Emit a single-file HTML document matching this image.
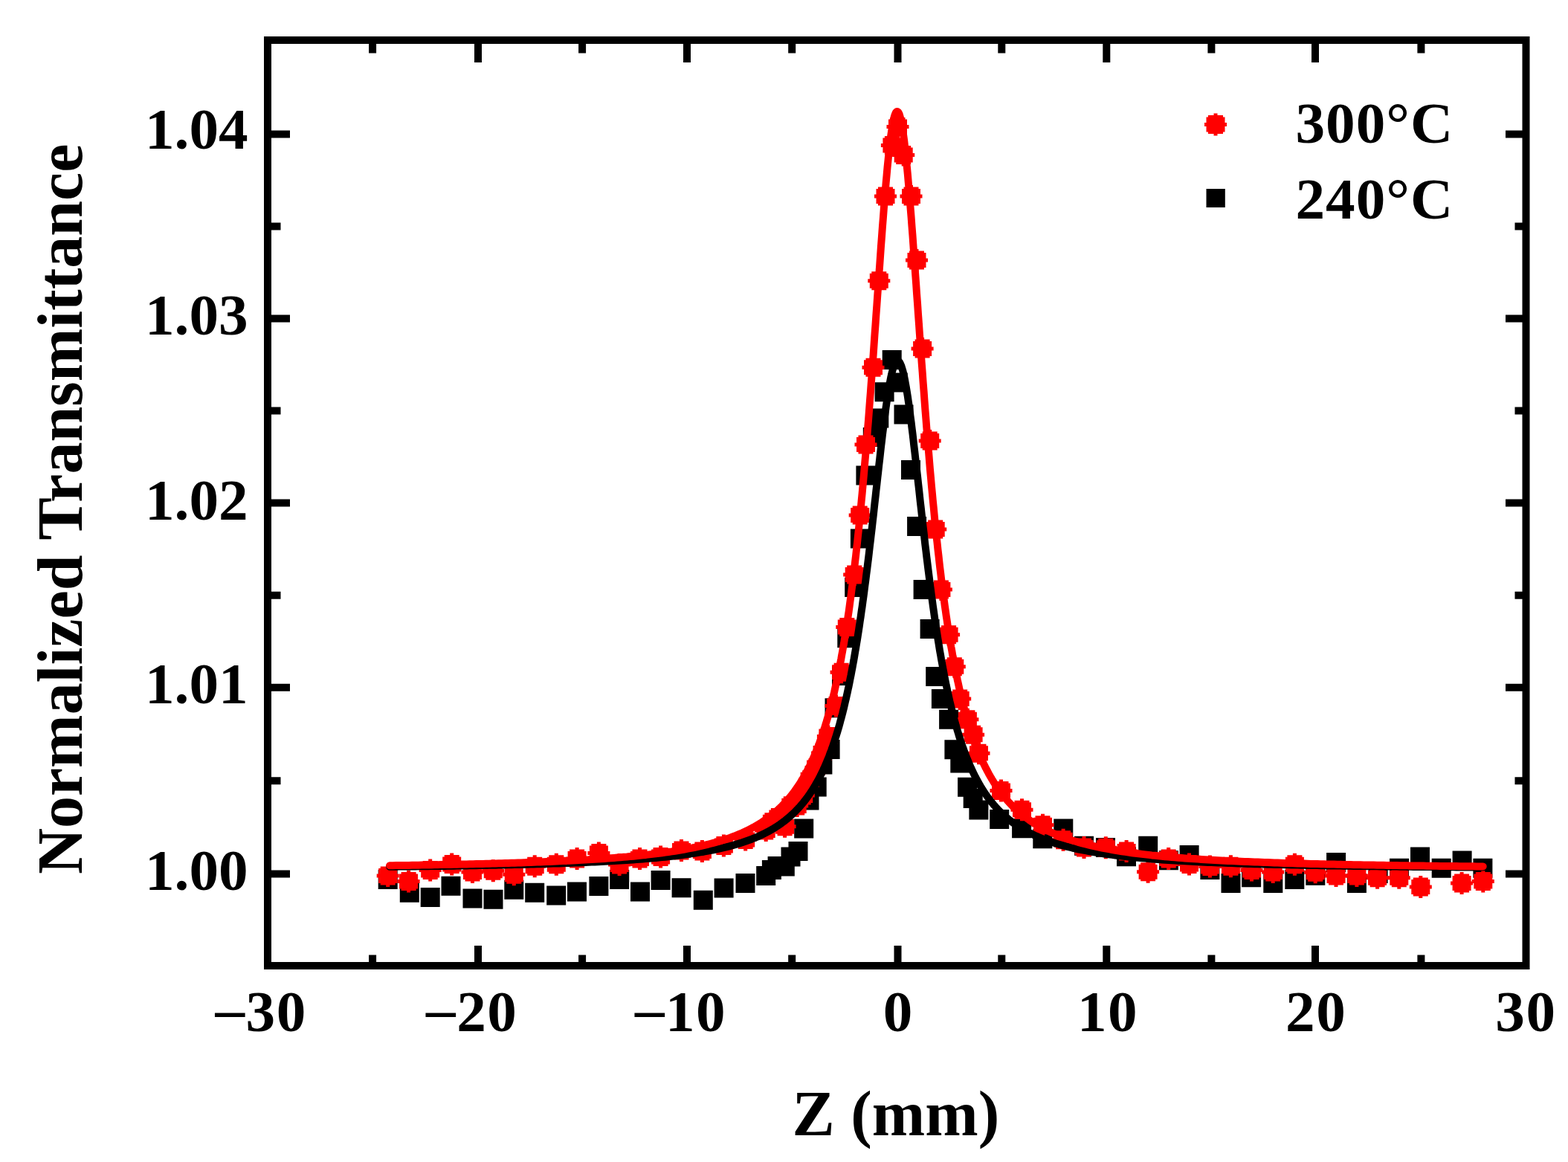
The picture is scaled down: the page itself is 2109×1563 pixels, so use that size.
<!DOCTYPE html>
<html><head><meta charset="utf-8"><style>html,body{margin:0;padding:0;background:#fff}svg{display:block}.t{font-family:'Liberation Serif',serif;font-weight:bold}</style></head>
<body><svg width="2109" height="1563" viewBox="0 0 2109 1563">
<rect width="2109" height="1563" fill="#fff"/>
<rect x="360" y="54" width="1692.5" height="1245" fill="none" stroke="#000" stroke-width="10"/>
<path d="M643.0 1294V1272 M643.0 59V84 M924.0 1294V1272 M924.0 59V84 M1207.5 1294V1272 M1207.5 59V84 M1488.3 1294V1272 M1488.3 59V84 M1769.0 1294V1272 M1769.0 59V84 M501.1 1294V1284.5 M501.1 59V71.5 M783.1 1294V1284.5 M783.1 59V71.5 M1065.2 1294V1284.5 M1065.2 59V71.5 M1347.3 1294V1284.5 M1347.3 59V71.5 M1629.4 1294V1284.5 M1629.4 59V71.5 M1911.4 1294V1284.5 M1911.4 59V71.5 M365 1175.5H390 M2048 1175.5H2025 M365 924.8H390 M2048 924.8H2025 M365 676.5H390 M2048 676.5H2025 M365 428.4H390 M2048 428.4H2025 M365 180.5H390 M2048 180.5H2025 M365 1050.2H377.5 M2048 1050.2H2037.5 M365 800.7H377.5 M2048 800.7H2037.5 M365 552.5H377.5 M2048 552.5H2037.5 M365 304.5H377.5 M2048 304.5H2037.5" stroke="#000" stroke-width="10" fill="none"/>
<g class="t" font-size="79.2" fill="#000"><text x="333.6" y="1197.0" text-anchor="end">1.00</text><text x="333.6" y="946.4" text-anchor="end">1.01</text><text x="333.6" y="698.5" text-anchor="end">1.02</text><text x="333.6" y="450.3" text-anchor="end">1.03</text><text x="333.6" y="200.2" text-anchor="end">1.04</text><text x="289.5" y="1387" letter-spacing="1.5"><tspan dy="-3">–</tspan><tspan dy="3">30</tspan></text><text x="573.1" y="1387" letter-spacing="1.5"><tspan dy="-3">–</tspan><tspan dy="3">20</tspan></text><text x="853.9" y="1387" letter-spacing="1.5"><tspan dy="-3">–</tspan><tspan dy="3">10</tspan></text><text x="1208.2" y="1387" text-anchor="middle" letter-spacing="1.5">0</text><text x="1490.0" y="1387" text-anchor="middle" letter-spacing="1.5">10</text><text x="1770.2" y="1387" text-anchor="middle" letter-spacing="1.5">20</text><text x="2052.4" y="1387" text-anchor="middle" letter-spacing="1.5">30</text></g>
<text x="1065.6" y="1527.3" textLength="278.6" lengthAdjust="spacingAndGlyphs" class="t" font-size="86.5">Z (mm)</text>
<text transform="translate(109.5 1176.1) rotate(-90)" x="0" y="0" textLength="982.5" lengthAdjust="spacingAndGlyphs" class="t" font-size="86.5">Normalized Transmittance</text>
<path d="M508.7 1169.9h26.0v26.0h-26.0ZM537.8 1187.7h26.0v26.0h-26.0ZM565.7 1194.0h26.0v26.0h-26.0ZM593.5 1178.7h26.0v26.0h-26.0ZM622.5 1195.4h26.0v26.0h-26.0ZM650.5 1196.8h26.0v26.0h-26.0ZM678.3 1183.8h26.0v26.0h-26.0ZM706.2 1187.8h26.0v26.0h-26.0ZM735.2 1191.4h26.0v26.0h-26.0ZM763.0 1186.6h26.0v26.0h-26.0ZM792.4 1179.0h26.0v26.0h-26.0ZM820.2 1169.9h26.0v26.0h-26.0ZM848.0 1186.6h26.0v26.0h-26.0ZM875.6 1171.1h26.0v26.0h-26.0ZM903.6 1181.3h26.0v26.0h-26.0ZM932.8 1197.8h26.0v26.0h-26.0ZM960.6 1181.4h26.0v26.0h-26.0ZM989.5 1175.0h26.0v26.0h-26.0ZM1017.2 1165.0h26.0v26.0h-26.0ZM1024.9 1156.9h26.0v26.0h-26.0ZM1032.6 1152.1h26.0v26.0h-26.0ZM1042.8 1152.4h26.0v26.0h-26.0ZM1050.5 1139.6h26.0v26.0h-26.0ZM1060.5 1131.9h26.0v26.0h-26.0ZM1068.2 1101.5h26.0v26.0h-26.0ZM1075.5 1063.5h26.0v26.0h-26.0ZM1085.7 1045.5h26.0v26.0h-26.0ZM1093.4 1015.5h26.0v26.0h-26.0ZM1103.6 995.0h26.0v26.0h-26.0ZM1109.5 939.2h26.0v26.0h-26.0ZM1119.0 896.1h26.0v26.0h-26.0ZM1126.3 845.2h26.0v26.0h-26.0ZM1136.2 777.1h26.0v26.0h-26.0ZM1143.9 711.4h26.0v26.0h-26.0ZM1151.4 626.6h26.0v26.0h-26.0ZM1160.8 575.0h26.0v26.0h-26.0ZM1169.3 549.5h26.0v26.0h-26.0ZM1176.6 514.2h26.0v26.0h-26.0ZM1186.7 471.1h26.0v26.0h-26.0ZM1194.7 501.6h26.0v26.0h-26.0ZM1202.5 544.6h26.0v26.0h-26.0ZM1212.0 619.0h26.0v26.0h-26.0ZM1220.1 695.0h26.0v26.0h-26.0ZM1228.6 780.0h26.0v26.0h-26.0ZM1237.6 833.0h26.0v26.0h-26.0ZM1245.2 897.0h26.0v26.0h-26.0ZM1252.9 927.0h26.0v26.0h-26.0ZM1263.1 954.8h26.0v26.0h-26.0ZM1270.4 995.3h26.0v26.0h-26.0ZM1278.3 1013.4h26.0v26.0h-26.0ZM1288.1 1045.7h26.0v26.0h-26.0ZM1295.7 1061.0h26.0v26.0h-26.0ZM1303.4 1076.4h26.0v26.0h-26.0ZM1331.2 1088.9h26.0v26.0h-26.0ZM1361.1 1101.3h26.0v26.0h-26.0ZM1389.3 1115.2h26.0v26.0h-26.0ZM1417.3 1101.6h26.0v26.0h-26.0ZM1445.0 1124.7h26.0v26.0h-26.0ZM1474.0 1126.9h26.0v26.0h-26.0ZM1502.0 1139.3h26.0v26.0h-26.0ZM1531.2 1124.7h26.0v26.0h-26.0ZM1558.9 1144.3h26.0v26.0h-26.0ZM1586.6 1137.1h26.0v26.0h-26.0ZM1614.4 1157.1h26.0v26.0h-26.0ZM1642.5 1175.1h26.0v26.0h-26.0ZM1670.1 1167.3h26.0v26.0h-26.0ZM1699.3 1175.1h26.0v26.0h-26.0ZM1728.3 1170.0h26.0v26.0h-26.0ZM1756.3 1164.7h26.0v26.0h-26.0ZM1784.1 1147.1h26.0v26.0h-26.0ZM1811.9 1175.1h26.0v26.0h-26.0ZM1840.6 1162.0h26.0v26.0h-26.0ZM1869.0 1154.8h26.0v26.0h-26.0ZM1897.0 1139.5h26.0v26.0h-26.0ZM1925.7 1154.8h26.0v26.0h-26.0ZM1953.6 1144.5h26.0v26.0h-26.0ZM1981.4 1154.8h26.0v26.0h-26.0Z" fill="#000"/>
<defs><path id="c" d="M-2.5 -15H2.5V-12.5H10V-10H12.5V-2.5H15V2.5H12.5V10H10V12.5H2.5V15H-2.5V12.5H-10V10H-12.5V2.5H-15V-2.5H-12.5V-10H-10V-12.5H-2.5Z" fill="#f00"/></defs>
<use href="#c" x="521.7" y="1177.9"/><use href="#c" x="549.6" y="1185.5"/><use href="#c" x="578.7" y="1170.5"/><use href="#c" x="607.7" y="1162.5"/><use href="#c" x="635.5" y="1173.0"/><use href="#c" x="663.3" y="1171.2"/><use href="#c" x="691.3" y="1176.2"/><use href="#c" x="719.2" y="1165.2"/><use href="#c" x="748.3" y="1162.7"/><use href="#c" x="776.1" y="1155.0"/><use href="#c" x="805.4" y="1147.4"/><use href="#c" x="833.1" y="1163.0"/><use href="#c" x="860.5" y="1155.0"/><use href="#c" x="888.6" y="1152.5"/><use href="#c" x="916.5" y="1144.0"/><use href="#c" x="944.4" y="1145.1"/><use href="#c" x="973.4" y="1137.4"/><use href="#c" x="1002.7" y="1129.6"/><use href="#c" x="1030.2" y="1117.0"/><use href="#c" x="1038.4" y="1105.8"/><use href="#c" x="1046.9" y="1099.5"/><use href="#c" x="1055.6" y="1111.8"/><use href="#c" x="1063.8" y="1083.8"/><use href="#c" x="1072.2" y="1084.0"/><use href="#c" x="1080.7" y="1070.0"/><use href="#c" x="1089.2" y="1048.8"/><use href="#c" x="1097.6" y="1032.6"/><use href="#c" x="1106.1" y="1013.1"/><use href="#c" x="1113.9" y="990.6"/><use href="#c" x="1124.5" y="949.4"/><use href="#c" x="1131.6" y="904.3"/><use href="#c" x="1139.3" y="843.5"/><use href="#c" x="1149.2" y="772.9"/><use href="#c" x="1156.7" y="693.0"/><use href="#c" x="1164.5" y="598.1"/><use href="#c" x="1174.5" y="494.3"/><use href="#c" x="1182.3" y="377.8"/><use href="#c" x="1191.0" y="264.0"/><use href="#c" x="1199.9" y="195.5"/><use href="#c" x="1207.5" y="170.4"/><use href="#c" x="1215.2" y="208.5"/><use href="#c" x="1225.5" y="264.0"/><use href="#c" x="1233.0" y="350.0"/><use href="#c" x="1240.6" y="469.0"/><use href="#c" x="1250.7" y="593.1"/><use href="#c" x="1258.2" y="711.9"/><use href="#c" x="1265.9" y="793.0"/><use href="#c" x="1276.1" y="853.7"/><use href="#c" x="1283.8" y="896.7"/><use href="#c" x="1291.2" y="940.0"/><use href="#c" x="1301.4" y="967.8"/><use href="#c" x="1309.1" y="988.2"/><use href="#c" x="1316.5" y="1013.3"/><use href="#c" x="1346.5" y="1063.5"/><use href="#c" x="1374.5" y="1089.2"/><use href="#c" x="1402.5" y="1109.7"/><use href="#c" x="1430.1" y="1129.8"/><use href="#c" x="1458.0" y="1140.0"/><use href="#c" x="1487.3" y="1140.2"/><use href="#c" x="1515.1" y="1145.0"/><use href="#c" x="1544.1" y="1172.7"/><use href="#c" x="1571.7" y="1155.0"/><use href="#c" x="1599.5" y="1162.6"/><use href="#c" x="1627.4" y="1165.6"/><use href="#c" x="1655.4" y="1165.3"/><use href="#c" x="1683.5" y="1170.6"/><use href="#c" x="1712.2" y="1172.9"/><use href="#c" x="1741.4" y="1162.7"/><use href="#c" x="1769.2" y="1173.3"/><use href="#c" x="1797.0" y="1177.9"/><use href="#c" x="1824.9" y="1177.9"/><use href="#c" x="1852.6" y="1180.8"/><use href="#c" x="1881.8" y="1180.8"/><use href="#c" x="1910.8" y="1193.1"/><use href="#c" x="1966.1" y="1188.1"/><use href="#c" x="1994.8" y="1185.4"/>
<path d="M524.2 1165.8 L528.5 1165.7 L532.8 1165.7 L537.1 1165.6 L541.4 1165.6 L545.7 1165.5 L550.0 1165.5 L554.3 1165.4 L558.7 1165.4 L563.0 1165.3 L567.3 1165.3 L571.6 1165.2 L575.9 1165.2 L580.2 1165.1 L584.5 1165.0 L588.8 1165.0 L593.1 1164.9 L597.4 1164.9 L601.7 1164.8 L606.1 1164.7 L610.4 1164.7 L614.7 1164.6 L619.0 1164.5 L623.3 1164.5 L627.6 1164.4 L631.9 1164.3 L636.2 1164.2 L640.5 1164.2 L644.8 1164.1 L649.2 1164.0 L653.5 1163.9 L657.8 1163.8 L662.1 1163.8 L666.4 1163.7 L670.7 1163.6 L675.0 1163.5 L679.3 1163.4 L683.6 1163.3 L687.9 1163.2 L692.2 1163.1 L696.6 1163.0 L700.9 1162.9 L705.2 1162.8 L709.5 1162.7 L713.8 1162.5 L718.1 1162.4 L722.4 1162.3 L726.7 1162.2 L731.0 1162.0 L735.3 1161.9 L739.7 1161.8 L744.0 1161.6 L748.3 1161.5 L752.6 1161.4 L756.9 1161.2 L761.2 1161.0 L765.5 1160.9 L769.8 1160.7 L774.1 1160.6 L778.4 1160.4 L782.7 1160.2 L787.1 1160.0 L791.4 1159.8 L795.7 1159.6 L800.0 1159.4 L804.3 1159.2 L808.6 1159.0 L812.9 1158.8 L817.2 1158.5 L821.5 1158.3 L825.8 1158.1 L830.1 1157.8 L834.5 1157.5 L838.8 1157.3 L843.1 1157.0 L847.4 1156.7 L851.7 1156.4 L856.0 1156.1 L860.3 1155.8 L864.6 1155.4 L868.9 1155.1 L873.2 1154.7 L877.6 1154.3 L881.9 1154.0 L886.2 1153.5 L890.5 1153.1 L894.8 1152.7 L899.1 1152.2 L903.4 1151.8 L907.7 1151.3 L912.0 1150.7 L916.3 1150.2 L920.6 1149.6 L925.0 1149.1 L929.3 1148.4 L933.6 1147.8 L937.9 1147.1 L942.2 1146.4 L946.5 1145.7 L950.8 1144.9 L955.1 1144.1 L959.4 1143.3 L963.7 1142.4 L968.1 1141.4 L972.4 1140.4 L976.7 1139.4 L981.0 1138.3 L985.3 1137.2 L989.6 1135.9 L993.9 1134.6 L998.2 1133.3 L1002.5 1131.8 L1006.8 1130.3 L1011.1 1128.7 L1015.5 1126.9 L1019.8 1125.1 L1024.1 1123.1 L1028.4 1121.0 L1032.7 1118.8 L1037.0 1116.4 L1037.9 1115.9 L1038.9 1115.3 L1039.8 1114.7 L1040.8 1114.2 L1041.7 1113.6 L1042.7 1113.0 L1043.6 1112.4 L1044.5 1111.8 L1045.5 1111.2 L1046.4 1110.6 L1047.4 1109.9 L1048.3 1109.3 L1049.3 1108.6 L1050.2 1108.0 L1051.1 1107.3 L1052.1 1106.6 L1053.0 1105.9 L1054.0 1105.2 L1054.9 1104.5 L1055.9 1103.8 L1056.8 1103.0 L1057.7 1102.3 L1058.7 1101.5 L1059.6 1100.7 L1060.6 1099.9 L1061.5 1099.1 L1062.5 1098.3 L1063.4 1097.4 L1064.3 1096.6 L1065.3 1095.7 L1066.2 1094.8 L1067.2 1094.0 L1068.1 1093.0 L1069.1 1092.1 L1070.0 1091.2 L1070.9 1090.2 L1071.9 1089.2 L1072.8 1088.2 L1073.8 1087.2 L1074.7 1086.2 L1075.7 1085.2 L1076.6 1084.1 L1077.5 1083.0 L1078.5 1081.9 L1079.4 1080.8 L1080.4 1079.6 L1081.3 1078.5 L1082.3 1077.3 L1083.2 1076.1 L1084.1 1074.8 L1085.1 1073.6 L1086.0 1072.3 L1087.0 1071.0 L1087.9 1069.6 L1088.9 1068.3 L1089.8 1066.9 L1090.7 1065.5 L1091.7 1064.0 L1092.6 1062.6 L1093.6 1061.1 L1094.5 1059.6 L1095.5 1058.0 L1096.4 1056.4 L1097.3 1054.8 L1098.3 1053.1 L1099.2 1051.5 L1100.2 1049.7 L1101.1 1048.0 L1102.1 1046.2 L1103.0 1044.4 L1103.9 1042.5 L1104.9 1040.6 L1105.8 1038.7 L1106.8 1036.7 L1107.7 1034.6 L1108.7 1032.6 L1109.6 1030.5 L1110.5 1028.3 L1111.5 1026.1 L1112.4 1023.8 L1113.4 1021.5 L1114.3 1019.2 L1115.3 1016.8 L1116.2 1014.3 L1117.1 1011.8 L1118.1 1009.3 L1119.0 1006.6 L1120.0 1004.0 L1120.9 1001.2 L1121.9 998.4 L1122.8 995.6 L1123.7 992.6 L1124.7 989.7 L1125.6 986.6 L1126.6 983.5 L1127.5 980.3 L1128.5 977.0 L1129.4 973.7 L1130.3 970.2 L1131.3 966.7 L1132.2 963.2 L1133.2 959.5 L1134.1 955.8 L1135.1 951.9 L1136.0 948.0 L1136.9 944.0 L1137.9 939.9 L1138.8 935.7 L1139.8 931.4 L1140.7 927.1 L1141.7 922.6 L1142.6 918.0 L1143.5 913.3 L1144.5 908.5 L1145.4 903.6 L1146.4 898.6 L1147.3 893.5 L1148.3 888.3 L1149.2 882.9 L1150.1 877.5 L1151.1 871.9 L1152.0 866.2 L1153.0 860.4 L1153.9 854.4 L1154.9 848.3 L1155.8 842.2 L1156.7 835.9 L1157.7 829.4 L1158.6 822.8 L1159.6 816.2 L1160.5 809.4 L1161.5 802.4 L1162.4 795.4 L1163.3 788.2 L1164.3 780.9 L1165.2 773.4 L1166.2 765.9 L1167.1 758.3 L1168.1 750.5 L1169.0 742.7 L1169.9 734.7 L1170.9 726.7 L1171.8 718.6 L1172.8 710.3 L1173.7 702.1 L1174.7 693.7 L1175.6 685.3 L1176.5 676.9 L1177.5 668.4 L1178.4 659.9 L1179.4 651.4 L1180.3 642.9 L1181.3 634.5 L1182.2 626.0 L1183.2 617.7 L1184.1 609.4 L1185.0 601.2 L1186.0 593.1 L1186.9 585.1 L1187.9 577.3 L1188.8 569.7 L1189.7 562.2 L1190.7 555.0 L1191.6 548.0 L1192.6 541.3 L1193.5 534.9 L1194.5 528.7 L1195.4 522.9 L1196.3 517.5 L1197.3 512.4 L1198.2 507.7 L1199.2 503.4 L1200.1 499.5 L1201.1 496.1 L1202.0 493.1 L1202.9 490.6 L1203.9 488.6 L1204.8 487.0 L1205.8 486.0 L1206.7 485.4 L1207.7 485.4 L1208.6 485.8 L1209.6 486.8 L1210.5 488.2 L1211.4 490.1 L1212.4 492.5 L1213.3 495.4 L1214.3 498.7 L1215.2 502.5 L1216.2 506.7 L1217.1 511.3 L1218.0 516.3 L1219.0 521.7 L1219.9 527.4 L1220.9 533.5 L1221.8 539.9 L1222.8 546.5 L1223.7 553.4 L1224.6 560.6 L1225.6 568.0 L1226.5 575.6 L1227.5 583.4 L1228.4 591.3 L1229.3 599.4 L1230.3 607.6 L1231.2 615.8 L1232.2 624.2 L1233.1 632.6 L1234.1 641.1 L1235.0 649.5 L1236.0 658.0 L1236.9 666.5 L1237.8 675.0 L1238.8 683.4 L1239.7 691.8 L1240.7 700.2 L1241.6 708.5 L1242.6 716.7 L1243.5 724.9 L1244.4 733.0 L1245.4 740.9 L1246.3 748.8 L1247.3 756.6 L1248.2 764.2 L1249.2 771.8 L1250.1 779.2 L1251.0 786.6 L1252.0 793.8 L1252.9 800.9 L1253.9 807.8 L1254.8 814.7 L1255.8 821.4 L1256.7 828.0 L1257.6 834.4 L1258.6 840.8 L1259.5 847.0 L1260.5 853.1 L1261.4 859.0 L1262.4 864.9 L1263.3 870.6 L1264.2 876.2 L1265.2 881.7 L1266.1 887.1 L1267.1 892.3 L1268.0 897.5 L1269.0 902.5 L1269.9 907.5 L1270.8 912.3 L1271.8 917.0 L1272.7 921.6 L1273.7 926.1 L1274.6 930.5 L1275.6 934.8 L1276.5 939.0 L1277.4 943.1 L1278.4 947.1 L1279.3 951.1 L1280.3 954.9 L1281.2 958.7 L1282.2 962.4 L1283.1 966.0 L1284.0 969.5 L1285.0 972.9 L1285.9 976.3 L1286.9 979.6 L1287.8 982.8 L1288.8 985.9 L1289.7 989.0 L1290.6 992.0 L1291.6 994.9 L1292.5 997.8 L1293.5 1000.6 L1294.4 1003.4 L1295.4 1006.1 L1296.3 1008.7 L1297.2 1011.3 L1298.2 1013.8 L1299.1 1016.3 L1300.1 1018.7 L1301.0 1021.0 L1302.0 1023.3 L1302.9 1025.6 L1303.8 1027.8 L1304.8 1030.0 L1305.7 1032.1 L1306.7 1034.2 L1307.6 1036.2 L1308.6 1038.2 L1309.5 1040.2 L1310.4 1042.1 L1311.4 1044.0 L1312.3 1045.8 L1313.3 1047.6 L1314.2 1049.4 L1315.2 1051.1 L1316.1 1052.8 L1317.0 1054.4 L1318.0 1056.1 L1318.9 1057.7 L1319.9 1059.2 L1320.8 1060.8 L1321.8 1062.3 L1322.7 1063.7 L1323.6 1065.2 L1324.6 1066.6 L1325.5 1068.0 L1326.5 1069.3 L1327.4 1070.7 L1328.4 1072.0 L1329.3 1073.3 L1330.2 1074.5 L1331.2 1075.8 L1332.1 1077.0 L1333.1 1078.2 L1334.0 1079.4 L1335.0 1080.5 L1335.9 1081.7 L1336.8 1082.8 L1337.8 1083.9 L1338.7 1084.9 L1339.7 1086.0 L1340.6 1087.0 L1341.6 1088.0 L1342.5 1089.0 L1343.4 1090.0 L1344.4 1091.0 L1345.3 1091.9 L1346.3 1092.8 L1347.2 1093.8 L1348.2 1094.6 L1349.1 1095.5 L1350.0 1096.4 L1351.0 1097.3 L1351.9 1098.1 L1352.9 1098.9 L1353.8 1099.7 L1354.8 1100.5 L1355.7 1101.3 L1356.6 1102.1 L1357.6 1102.8 L1358.5 1103.6 L1359.5 1104.3 L1360.4 1105.0 L1361.4 1105.8 L1362.3 1106.5 L1363.2 1107.1 L1364.2 1107.8 L1365.1 1108.5 L1366.1 1109.1 L1367.0 1109.8 L1368.0 1110.4 L1368.9 1111.1 L1369.8 1111.7 L1370.8 1112.3 L1371.7 1112.9 L1372.7 1113.5 L1373.6 1114.0 L1374.6 1114.6 L1375.5 1115.2 L1380.0 1117.7 L1384.4 1120.1 L1388.9 1122.3 L1393.3 1124.4 L1397.8 1126.4 L1402.2 1128.2 L1406.7 1129.9 L1411.1 1131.5 L1415.6 1133.0 L1420.0 1134.4 L1424.5 1135.8 L1429.0 1137.1 L1433.4 1138.3 L1437.9 1139.4 L1442.3 1140.5 L1446.8 1141.5 L1451.2 1142.5 L1455.7 1143.4 L1460.1 1144.2 L1464.6 1145.1 L1469.0 1145.9 L1473.5 1146.6 L1477.9 1147.3 L1482.4 1148.0 L1486.9 1148.7 L1491.3 1149.3 L1495.8 1149.9 L1500.2 1150.5 L1504.7 1151.0 L1509.1 1151.5 L1513.6 1152.0 L1518.0 1152.5 L1522.5 1153.0 L1526.9 1153.4 L1531.4 1153.8 L1535.9 1154.2 L1540.3 1154.6 L1544.8 1155.0 L1549.2 1155.4 L1553.7 1155.7 L1558.1 1156.1 L1562.6 1156.4 L1567.0 1156.7 L1571.5 1157.0 L1575.9 1157.3 L1580.4 1157.6 L1584.9 1157.8 L1589.3 1158.1 L1593.8 1158.3 L1598.2 1158.6 L1602.7 1158.8 L1607.1 1159.1 L1611.6 1159.3 L1616.0 1159.5 L1620.5 1159.7 L1624.9 1159.9 L1629.4 1160.1 L1633.9 1160.3 L1638.3 1160.5 L1642.8 1160.6 L1647.2 1160.8 L1651.7 1161.0 L1656.1 1161.1 L1660.6 1161.3 L1665.0 1161.5 L1669.5 1161.6 L1673.9 1161.7 L1678.4 1161.9 L1682.9 1162.0 L1687.3 1162.2 L1691.8 1162.3 L1696.2 1162.4 L1700.7 1162.5 L1705.1 1162.7 L1709.6 1162.8 L1714.0 1162.9 L1718.5 1163.0 L1722.9 1163.1 L1727.4 1163.2 L1731.9 1163.3 L1736.3 1163.4 L1740.8 1163.5 L1745.2 1163.6 L1749.7 1163.7 L1754.1 1163.8 L1758.6 1163.9 L1763.0 1164.0 L1767.5 1164.0 L1771.9 1164.1 L1776.4 1164.2 L1780.8 1164.3 L1785.3 1164.4 L1789.8 1164.4 L1794.2 1164.5 L1798.7 1164.6 L1803.1 1164.6 L1807.6 1164.7 L1812.0 1164.8 L1816.5 1164.8 L1820.9 1164.9 L1825.4 1165.0 L1829.8 1165.0 L1834.3 1165.1 L1838.8 1165.2 L1843.2 1165.2 L1847.7 1165.3 L1852.1 1165.3 L1856.6 1165.4 L1861.0 1165.4 L1865.5 1165.5 L1869.9 1165.5 L1874.4 1165.6 L1878.8 1165.6 L1883.3 1165.7 L1887.8 1165.7 L1892.2 1165.8 L1896.7 1165.8 L1901.1 1165.9 L1905.6 1165.9 L1910.0 1165.9 L1914.5 1166.0 L1918.9 1166.0 L1923.4 1166.1 L1927.8 1166.1 L1932.3 1166.2 L1936.8 1166.2 L1941.2 1166.2 L1945.7 1166.3 L1950.1 1166.3 L1954.6 1166.3 L1959.0 1166.4 L1963.5 1166.4 L1967.9 1166.4 L1972.4 1166.5 L1976.8 1166.5 L1981.3 1166.5 L1985.8 1166.6 L1990.2 1166.6 L1994.7 1166.6" fill="none" stroke="#000" stroke-width="10" stroke-linejoin="round" stroke-linecap="round"/>
<path d="M524.2 1164.3 L528.5 1164.2 L532.8 1164.1 L537.1 1164.1 L541.4 1164.0 L545.7 1164.0 L550.0 1163.9 L554.3 1163.8 L558.7 1163.8 L563.0 1163.7 L567.3 1163.6 L571.6 1163.5 L575.9 1163.5 L580.2 1163.4 L584.5 1163.3 L588.8 1163.2 L593.1 1163.1 L597.4 1163.1 L601.7 1163.0 L606.1 1162.9 L610.4 1162.8 L614.7 1162.7 L619.0 1162.6 L623.3 1162.5 L627.6 1162.4 L631.9 1162.3 L636.2 1162.2 L640.5 1162.1 L644.8 1162.0 L649.2 1161.9 L653.5 1161.8 L657.8 1161.7 L662.1 1161.6 L666.4 1161.5 L670.7 1161.3 L675.0 1161.2 L679.3 1161.1 L683.6 1161.0 L687.9 1160.8 L692.2 1160.7 L696.6 1160.5 L700.9 1160.4 L705.2 1160.2 L709.5 1160.1 L713.8 1159.9 L718.1 1159.8 L722.4 1159.6 L726.7 1159.5 L731.0 1159.3 L735.3 1159.1 L739.7 1158.9 L744.0 1158.7 L748.3 1158.5 L752.6 1158.3 L756.9 1158.1 L761.2 1157.9 L765.5 1157.7 L769.8 1157.5 L774.1 1157.3 L778.4 1157.0 L782.7 1156.8 L787.1 1156.5 L791.4 1156.3 L795.7 1156.0 L800.0 1155.7 L804.3 1155.5 L808.6 1155.2 L812.9 1154.9 L817.2 1154.6 L821.5 1154.2 L825.8 1153.9 L830.1 1153.6 L834.5 1153.2 L838.8 1152.8 L843.1 1152.5 L847.4 1152.1 L851.7 1151.7 L856.0 1151.2 L860.3 1150.8 L864.6 1150.3 L868.9 1149.9 L873.2 1149.4 L877.6 1148.9 L881.9 1148.4 L886.2 1147.8 L890.5 1147.2 L894.8 1146.6 L899.1 1146.0 L903.4 1145.4 L907.7 1144.7 L912.0 1144.0 L916.3 1143.3 L920.6 1142.5 L925.0 1141.7 L929.3 1140.9 L933.6 1140.0 L937.9 1139.1 L942.2 1138.2 L946.5 1137.2 L950.8 1136.1 L955.1 1135.0 L959.4 1133.9 L963.7 1132.7 L968.1 1131.4 L972.4 1130.0 L976.7 1128.6 L981.0 1127.1 L985.3 1125.5 L989.6 1123.9 L993.9 1122.1 L998.2 1120.3 L1002.5 1118.3 L1006.8 1116.2 L1011.1 1114.0 L1015.5 1111.6 L1019.8 1109.1 L1024.1 1106.4 L1028.4 1103.5 L1032.7 1100.5 L1037.0 1097.2 L1037.9 1096.4 L1038.9 1095.7 L1039.8 1094.9 L1040.8 1094.1 L1041.7 1093.3 L1042.7 1092.5 L1043.6 1091.7 L1044.5 1090.9 L1045.5 1090.0 L1046.4 1089.2 L1047.4 1088.3 L1048.3 1087.4 L1049.3 1086.5 L1050.2 1085.6 L1051.1 1084.7 L1052.1 1083.7 L1053.0 1082.7 L1054.0 1081.8 L1054.9 1080.8 L1055.9 1079.8 L1056.8 1078.7 L1057.7 1077.7 L1058.7 1076.6 L1059.6 1075.6 L1060.6 1074.5 L1061.5 1073.3 L1062.5 1072.2 L1063.4 1071.1 L1064.3 1069.9 L1065.3 1068.7 L1066.2 1067.5 L1067.2 1066.2 L1068.1 1065.0 L1069.1 1063.7 L1070.0 1062.4 L1070.9 1061.1 L1071.9 1059.7 L1072.8 1058.3 L1073.8 1056.9 L1074.7 1055.5 L1075.7 1054.0 L1076.6 1052.6 L1077.5 1051.0 L1078.5 1049.5 L1079.4 1047.9 L1080.4 1046.3 L1081.3 1044.7 L1082.3 1043.1 L1083.2 1041.4 L1084.1 1039.7 L1085.1 1037.9 L1086.0 1036.1 L1087.0 1034.3 L1087.9 1032.4 L1088.9 1030.5 L1089.8 1028.6 L1090.7 1026.6 L1091.7 1024.6 L1092.6 1022.6 L1093.6 1020.5 L1094.5 1018.3 L1095.5 1016.2 L1096.4 1013.9 L1097.3 1011.7 L1098.3 1009.4 L1099.2 1007.0 L1100.2 1004.6 L1101.1 1002.1 L1102.1 999.6 L1103.0 997.0 L1103.9 994.4 L1104.9 991.7 L1105.8 989.0 L1106.8 986.2 L1107.7 983.3 L1108.7 980.4 L1109.6 977.4 L1110.5 974.3 L1111.5 971.2 L1112.4 968.0 L1113.4 964.8 L1114.3 961.4 L1115.3 958.0 L1116.2 954.5 L1117.1 951.0 L1118.1 947.3 L1119.0 943.6 L1120.0 939.8 L1120.9 935.9 L1121.9 931.9 L1122.8 927.8 L1123.7 923.6 L1124.7 919.3 L1125.6 914.9 L1126.6 910.4 L1127.5 905.9 L1128.5 901.2 L1129.4 896.3 L1130.3 891.4 L1131.3 886.4 L1132.2 881.2 L1133.2 875.9 L1134.1 870.5 L1135.1 865.0 L1136.0 859.3 L1136.9 853.5 L1137.9 847.5 L1138.8 841.4 L1139.8 835.1 L1140.7 828.8 L1141.7 822.2 L1142.6 815.5 L1143.5 808.6 L1144.5 801.6 L1145.4 794.4 L1146.4 787.0 L1147.3 779.5 L1148.3 771.8 L1149.2 763.9 L1150.1 755.8 L1151.1 747.5 L1152.0 739.0 L1153.0 730.4 L1153.9 721.5 L1154.9 712.4 L1155.8 703.2 L1156.7 693.7 L1157.7 684.0 L1158.6 674.2 L1159.6 664.1 L1160.5 653.8 L1161.5 643.3 L1162.4 632.6 L1163.3 621.7 L1164.3 610.6 L1165.2 599.3 L1166.2 587.8 L1167.1 576.1 L1168.1 564.2 L1169.0 552.1 L1169.9 539.9 L1170.9 527.4 L1171.8 514.9 L1172.8 502.1 L1173.7 489.3 L1174.7 476.3 L1175.6 463.2 L1176.5 450.0 L1177.5 436.8 L1178.4 423.5 L1179.4 410.1 L1180.3 396.8 L1181.3 383.5 L1182.2 370.2 L1183.2 356.9 L1184.1 343.8 L1185.0 330.8 L1186.0 318.0 L1186.9 305.3 L1187.9 292.9 L1188.8 280.8 L1189.7 269.0 L1190.7 257.5 L1191.6 246.4 L1192.6 235.7 L1193.5 225.5 L1194.5 215.8 L1195.4 206.6 L1196.3 198.0 L1197.3 190.0 L1198.2 182.6 L1199.2 176.0 L1200.1 170.0 L1201.1 164.8 L1202.0 160.3 L1202.9 156.6 L1203.9 153.7 L1204.8 151.6 L1205.8 150.3 L1206.7 149.9 L1207.7 150.3 L1208.6 151.5 L1209.6 153.5 L1210.5 156.4 L1211.4 160.0 L1212.4 164.4 L1213.3 169.6 L1214.3 175.5 L1215.2 182.1 L1216.2 189.5 L1217.1 197.4 L1218.0 206.0 L1219.0 215.1 L1219.9 224.8 L1220.9 235.0 L1221.8 245.6 L1222.8 256.7 L1223.7 268.2 L1224.6 280.0 L1225.6 292.1 L1226.5 304.5 L1227.5 317.1 L1228.4 329.9 L1229.3 342.9 L1230.3 356.0 L1231.2 369.2 L1232.2 382.5 L1233.1 395.8 L1234.1 409.2 L1235.0 422.5 L1236.0 435.8 L1236.9 449.1 L1237.8 462.3 L1238.8 475.4 L1239.7 488.3 L1240.7 501.2 L1241.6 514.0 L1242.6 526.5 L1243.5 539.0 L1244.4 551.2 L1245.4 563.3 L1246.3 575.2 L1247.3 586.9 L1248.2 598.5 L1249.2 609.8 L1250.1 620.9 L1251.0 631.8 L1252.0 642.6 L1252.9 653.1 L1253.9 663.4 L1254.8 673.4 L1255.8 683.3 L1256.7 693.0 L1257.6 702.5 L1258.6 711.8 L1259.5 720.9 L1260.5 729.7 L1261.4 738.4 L1262.4 746.9 L1263.3 755.2 L1264.2 763.3 L1265.2 771.2 L1266.1 778.9 L1267.1 786.5 L1268.0 793.9 L1269.0 801.1 L1269.9 808.1 L1270.8 815.0 L1271.8 821.7 L1272.7 828.3 L1273.7 834.7 L1274.6 841.0 L1275.6 847.1 L1276.5 853.0 L1277.4 858.9 L1278.4 864.5 L1279.3 870.1 L1280.3 875.5 L1281.2 880.8 L1282.2 886.0 L1283.1 891.0 L1284.0 896.0 L1285.0 900.8 L1285.9 905.5 L1286.9 910.1 L1287.8 914.6 L1288.8 919.0 L1289.7 923.3 L1290.6 927.5 L1291.6 931.6 L1292.5 935.6 L1293.5 939.5 L1294.4 943.3 L1295.4 947.1 L1296.3 950.7 L1297.2 954.3 L1298.2 957.8 L1299.1 961.2 L1300.1 964.5 L1301.0 967.8 L1302.0 971.0 L1302.9 974.1 L1303.8 977.2 L1304.8 980.2 L1305.7 983.1 L1306.7 986.0 L1307.6 988.8 L1308.6 991.5 L1309.5 994.2 L1310.4 996.8 L1311.4 999.4 L1312.3 1001.9 L1313.3 1004.4 L1314.2 1006.8 L1315.2 1009.2 L1316.1 1011.5 L1317.0 1013.8 L1318.0 1016.0 L1318.9 1018.2 L1319.9 1020.3 L1320.8 1022.4 L1321.8 1024.5 L1322.7 1026.5 L1323.6 1028.5 L1324.6 1030.4 L1325.5 1032.3 L1326.5 1034.2 L1327.4 1036.0 L1328.4 1037.8 L1329.3 1039.5 L1330.2 1041.3 L1331.2 1042.9 L1332.1 1044.6 L1333.1 1046.2 L1334.0 1047.8 L1335.0 1049.4 L1335.9 1050.9 L1336.8 1052.4 L1337.8 1053.9 L1338.7 1055.4 L1339.7 1056.8 L1340.6 1058.2 L1341.6 1059.6 L1342.5 1061.0 L1343.4 1062.3 L1344.4 1063.6 L1345.3 1064.9 L1346.3 1066.1 L1347.2 1067.4 L1348.2 1068.6 L1349.1 1069.8 L1350.0 1071.0 L1351.0 1072.1 L1351.9 1073.3 L1352.9 1074.4 L1353.8 1075.5 L1354.8 1076.6 L1355.7 1077.6 L1356.6 1078.7 L1357.6 1079.7 L1358.5 1080.7 L1359.5 1081.7 L1360.4 1082.7 L1361.4 1083.6 L1362.3 1084.6 L1363.2 1085.5 L1364.2 1086.4 L1365.1 1087.3 L1366.1 1088.2 L1367.0 1089.1 L1368.0 1090.0 L1368.9 1090.8 L1369.8 1091.6 L1370.8 1092.5 L1371.7 1093.3 L1372.7 1094.1 L1373.6 1094.8 L1374.6 1095.6 L1375.5 1096.4 L1380.0 1099.8 L1384.4 1103.0 L1388.9 1106.0 L1393.3 1108.8 L1397.8 1111.4 L1402.2 1113.9 L1406.7 1116.2 L1411.1 1118.4 L1415.6 1120.4 L1420.0 1122.3 L1424.5 1124.1 L1429.0 1125.8 L1433.4 1127.4 L1437.9 1129.0 L1442.3 1130.4 L1446.8 1131.8 L1451.2 1133.1 L1455.7 1134.3 L1460.1 1135.5 L1464.6 1136.6 L1469.0 1137.6 L1473.5 1138.7 L1477.9 1139.6 L1482.4 1140.5 L1486.9 1141.4 L1491.3 1142.2 L1495.8 1143.0 L1500.2 1143.8 L1504.7 1144.5 L1509.1 1145.2 L1513.6 1145.9 L1518.0 1146.5 L1522.5 1147.2 L1526.9 1147.8 L1531.4 1148.3 L1535.9 1148.9 L1540.3 1149.4 L1544.8 1149.9 L1549.2 1150.4 L1553.7 1150.8 L1558.1 1151.3 L1562.6 1151.7 L1567.0 1152.2 L1571.5 1152.6 L1575.9 1152.9 L1580.4 1153.3 L1584.9 1153.7 L1589.3 1154.0 L1593.8 1154.4 L1598.2 1154.7 L1602.7 1155.0 L1607.1 1155.3 L1611.6 1155.6 L1616.0 1155.9 L1620.5 1156.2 L1624.9 1156.4 L1629.4 1156.7 L1633.9 1157.0 L1638.3 1157.2 L1642.8 1157.4 L1647.2 1157.7 L1651.7 1157.9 L1656.1 1158.1 L1660.6 1158.3 L1665.0 1158.5 L1669.5 1158.7 L1673.9 1158.9 L1678.4 1159.1 L1682.9 1159.3 L1687.3 1159.5 L1691.8 1159.6 L1696.2 1159.8 L1700.7 1160.0 L1705.1 1160.1 L1709.6 1160.3 L1714.0 1160.4 L1718.5 1160.6 L1722.9 1160.7 L1727.4 1160.9 L1731.9 1161.0 L1736.3 1161.1 L1740.8 1161.3 L1745.2 1161.4 L1749.7 1161.5 L1754.1 1161.6 L1758.6 1161.8 L1763.0 1161.9 L1767.5 1162.0 L1771.9 1162.1 L1776.4 1162.2 L1780.8 1162.3 L1785.3 1162.4 L1789.8 1162.5 L1794.2 1162.6 L1798.7 1162.7 L1803.1 1162.8 L1807.6 1162.9 L1812.0 1163.0 L1816.5 1163.1 L1820.9 1163.2 L1825.4 1163.2 L1829.8 1163.3 L1834.3 1163.4 L1838.8 1163.5 L1843.2 1163.6 L1847.7 1163.6 L1852.1 1163.7 L1856.6 1163.8 L1861.0 1163.8 L1865.5 1163.9 L1869.9 1164.0 L1874.4 1164.1 L1878.8 1164.1 L1883.3 1164.2 L1887.8 1164.2 L1892.2 1164.3 L1896.7 1164.4 L1901.1 1164.4 L1905.6 1164.5 L1910.0 1164.5 L1914.5 1164.6 L1918.9 1164.7 L1923.4 1164.7 L1927.8 1164.8 L1932.3 1164.8 L1936.8 1164.9 L1941.2 1164.9 L1945.7 1165.0 L1950.1 1165.0 L1954.6 1165.1 L1959.0 1165.1 L1963.5 1165.2 L1967.9 1165.2 L1972.4 1165.2 L1976.8 1165.3 L1981.3 1165.3 L1985.8 1165.4 L1990.2 1165.4 L1994.7 1165.5" fill="none" stroke="#f00" stroke-width="10" stroke-linejoin="round" stroke-linecap="round"/>
<path transform="translate(1635 167.5)" d="M-2.5 -15H2.5V-12.5H10V-10H12.5V-2.5H15V2.5H12.5V10H10V12.5H2.5V15H-2.5V12.5H-10V10H-12.5V2.5H-15V-2.5H-12.5V-10H-10V-12.5H-2.5Z" fill="#f00"/>
<rect x="1622.5" y="254" width="25.3" height="25" fill="#000"/>
<g class="t" font-size="79.2"><text x="1742.5" y="191.8" letter-spacing="1">300°C</text><text x="1742.5" y="293.7" letter-spacing="1">240°C</text></g>
</svg></body></html>
